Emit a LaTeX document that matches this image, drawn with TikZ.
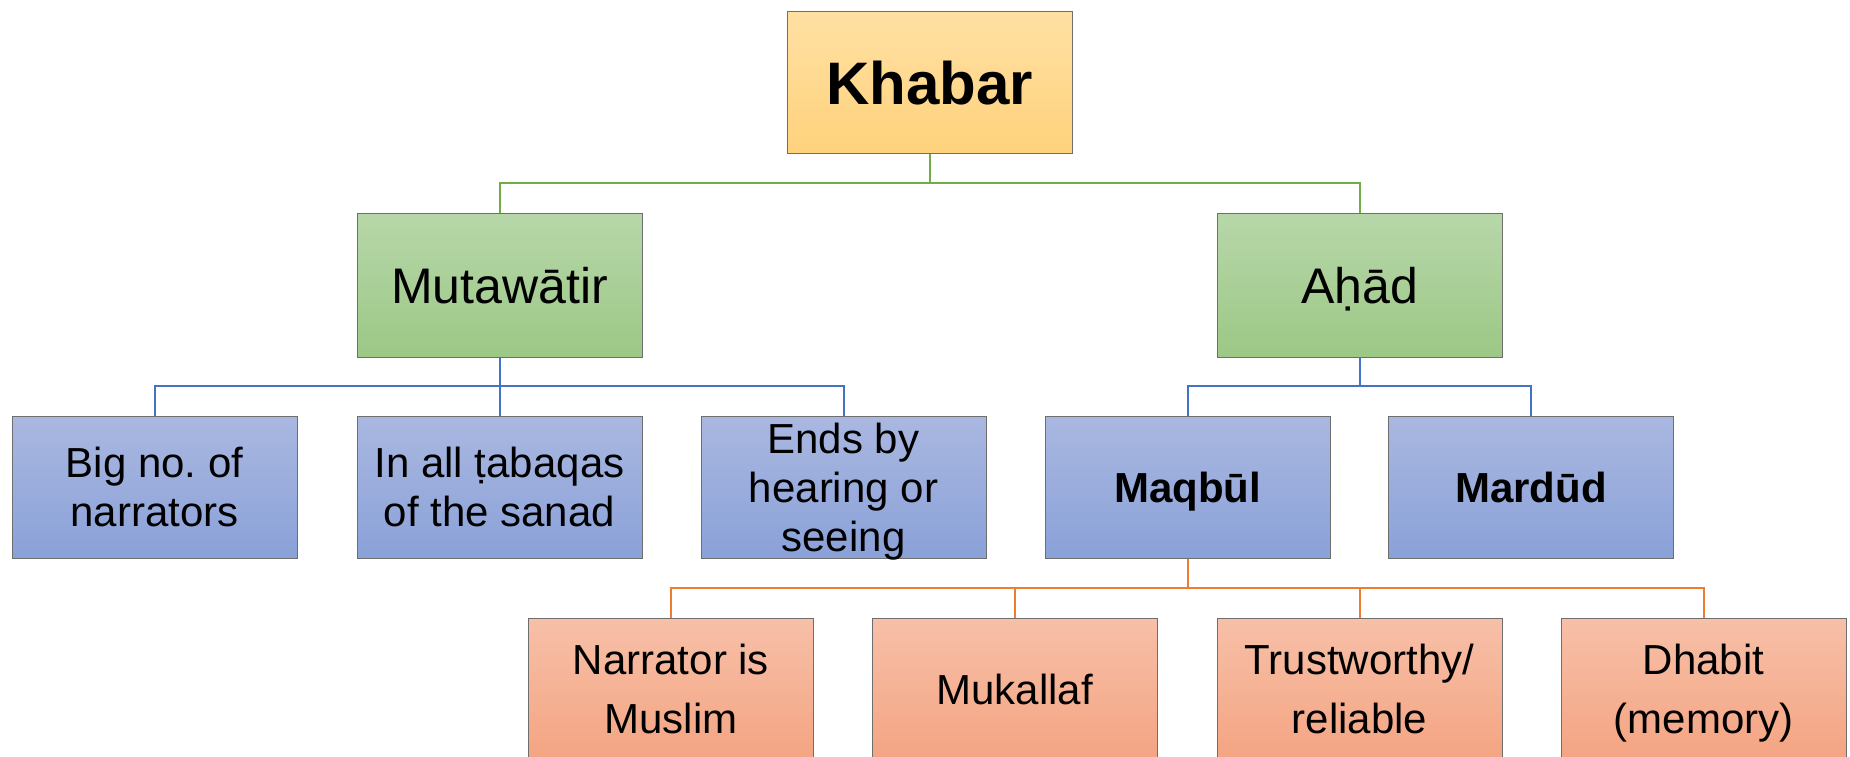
\documentclass[tikz,border=0pt]{standalone}
\usepackage{fontspec}
\setmainfont{Liberation Sans}
\frenchspacing
\definecolor{kTop}{HTML}{FFE0A3}
\definecolor{kBot}{HTML}{FFD27C}
\definecolor{gTop}{HTML}{B7D7A9}
\definecolor{gBot}{HTML}{9CC886}
\definecolor{bTop}{HTML}{AAB8E1}
\definecolor{bBot}{HTML}{8AA1D8}
\definecolor{oTop}{HTML}{F7C0A8}
\definecolor{oBot}{HTML}{F4A482}
\definecolor{edge}{HTML}{6E6E6E}
\definecolor{gLine}{HTML}{70AD47}
\definecolor{bLine}{HTML}{4472C4}
\definecolor{oLine}{HTML}{ED7D31}
\tikzset{
  box/.style={draw=edge, line width=1pt, inner sep=0pt, minimum width=285pt, minimum height=142pt, align=center, text=black},
  kbox/.style={box, top color=kTop, bottom color=kBot, font=\fontsize{60}{70}\selectfont\bfseries, text depth=-4.5pt},
  gbox/.style={box, minimum height=144pt, top color=gTop, bottom color=gBot, font=\fontsize{50}{60}\selectfont, text depth=-5.5pt},
  bbox/.style={box, top color=bTop, bottom color=bBot, font=\fontsize{42}{49}\selectfont, text depth=0pt},
  bboldbox/.style={bbox, font=\fontsize{42}{49}\selectfont\bfseries, text depth=-5pt},
  obox/.style={box, top color=oTop, bottom color=oBot, font=\fontsize{42}{59}\selectfont, text depth=-6.4pt},
  gconn/.style={draw=gLine, line width=2pt},
  bconn/.style={draw=bLine, line width=2pt},
  oconn/.style={draw=oLine, line width=2pt},
}
\begin{document}
\begin{tikzpicture}[x=1pt, y=-1pt]
\useasboundingbox (0,0) rectangle (1850,757);
\clip (0,0) rectangle (1850,757);
\fill[white] (0,0) rectangle (1850,757);
% nodes
\node[kbox] (khabar) at (929.5,83) {Khabar};
\node[gbox] (mut) at (499.5,285) {Mutawātir};
\node[gbox] (ahad) at (1359.5,285) {Aḥād};
\node[bbox] (big) at (154.5,487) {Big no. of\\narrators};
\node[bbox] (inall) at (499.5,487) {In all ṭabaqas\\of the sanad};
\node[bbox] (ends) at (843.5,487) {Ends by\\hearing or\\seeing};
\node[bboldbox] (maqbul) at (1187.5,487) {Maqbūl};
\node[bboldbox] (mardud) at (1531,487) {Mardūd};
\node[obox] (narr) at (671,689) {Narrator is\\Muslim};
\node[obox, text depth=-7.4pt] (muk) at (1014.5,689) {Mukallaf};
\node[obox] (trust) at (1359.5,689) {Trustworthy/\\reliable};
\node[obox] (dhab) at (1703.5,689) {Dhabit\\(memory)};
% junctions
\coordinate (j1) at (929.5,183);
\coordinate (j2) at (499.5,386);
\coordinate (j3) at (1359.5,386);
\coordinate (j4) at (1187.5,588);
% connectors
\draw[gconn] (khabar.south) -- (j1);
\draw[gconn] (j1) -| (mut.north);
\draw[gconn] (j1) -| (ahad.north);
\draw[bconn] (mut.south) -- (j2);
\draw[bconn] (j2) -| (big.north);
\draw[bconn] (j2) -- (inall.north);
\draw[bconn] (j2) -| (ends.north);
\draw[bconn] (ahad.south) -- (j3);
\draw[bconn] (j3) -| (maqbul.north);
\draw[bconn] (j3) -| (mardud.north);
\draw[oconn] (maqbul.south) -- (j4);
\draw[oconn] (j4) -| (narr.north);
\draw[oconn] (j4) -| (muk.north);
\draw[oconn] (j4) -| (trust.north);
\draw[oconn] (j4) -| (dhab.north);
\end{tikzpicture}
\end{document}
